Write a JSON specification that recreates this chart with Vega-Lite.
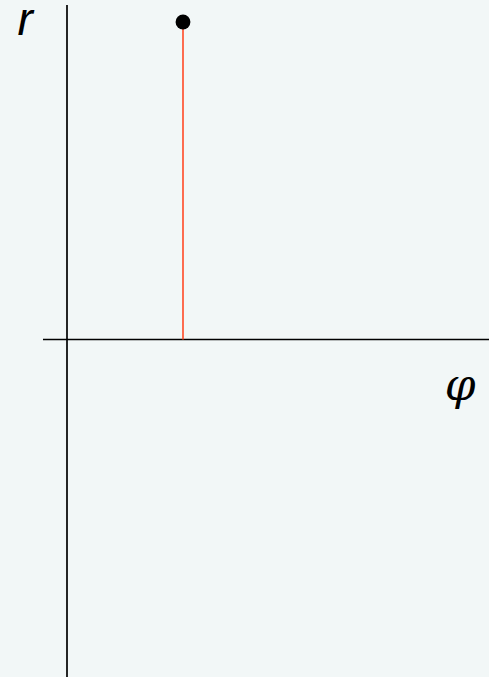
{
  "$schema": "https://vega.github.io/schema/vega-lite/v6.json",
  "width": 489,
  "height": 677,
  "autosize": {"type": "none"},
  "padding": 0,
  "background": "#f2f7f7",
  "config": {"view": {"stroke": null}},
  "datasets": {
    "axes": [
      {"phi": 0, "phi2": 0, "r": 1.0535, "r2": -1.1},
      {"phi": -0.207, "phi2": 3.7, "r": 0, "r2": 0}
    ],
    "point": [{"phi": 1, "r": 1}],
    "rLabel": [{"phi": -0.36, "r": 0.958, "label": "r"}],
    "phiLabel": [{"phi": 3.39, "r": -0.19, "label": "φ"}]
  },
  "encoding": {
    "x": {"field": "phi", "type": "quantitative", "axis": null,
          "scale": {"domain": [-0.5776, 3.638], "nice": false, "zero": false}},
    "y": {"field": "r", "type": "quantitative", "axis": null,
          "scale": {"domain": [-1.063, 1.0693], "nice": false, "zero": false}}
  },
  "layer": [
    {
      "data": {"name": "axes"},
      "mark": {"type": "rule", "color": "#000000", "strokeWidth": 1.7},
      "encoding": {
        "x2": {"field": "phi2"},
        "y2": {"field": "r2"}
      }
    },
    {
      "data": {"name": "point"},
      "mark": {"type": "rule", "color": "#ff4a26", "strokeWidth": 1.6},
      "encoding": {
        "y": {"datum": 0},
        "y2": {"field": "r"}
      }
    },
    {
      "data": {"name": "point"},
      "mark": {"type": "point", "filled": true, "color": "#000000", "opacity": 1, "size": 220}
    },
    {
      "data": {"name": "rLabel"},
      "mark": {"type": "text", "font": "Liberation Sans", "fontStyle": "italic", "fontSize": 46, "align": "center", "baseline": "alphabetic", "color": "#000000"},
      "encoding": {"text": {"field": "label"}}
    },
    {
      "data": {"name": "phiLabel"},
      "mark": {"type": "text", "font": "DejaVu Serif", "fontStyle": "italic", "fontSize": 44, "align": "center", "baseline": "alphabetic", "color": "#000000"},
      "encoding": {"text": {"field": "label"}}
    }
  ]
}
